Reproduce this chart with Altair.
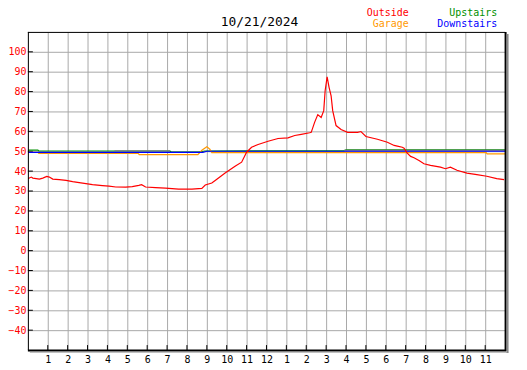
import json
import altair as alt
import pandas as pd

# ---------------- data ----------------
hours = list(range(1, 24))
hour_labels = ["1", "2", "3", "4", "5", "6", "7", "8", "9", "10", "11", "12",
               "1", "2", "3", "4", "5", "6", "7", "8", "9", "10", "11"]
y_ticks = [-40, -30, -20, -10, 0, 10, 20, 30, 40, 50, 60, 70, 80, 90, 100]

outside_h = [0.0, 0.17, 0.25, 0.58, 0.75, 0.95, 1.08, 1.25, 1.58, 1.92, 2.25, 2.58, 2.92,
             3.25, 3.75, 4.08, 4.42, 4.92, 5.25, 5.58, 5.72, 5.92, 6.42, 6.92, 7.58, 8.25,
             8.75, 8.92, 9.25, 9.42, 9.92, 10.42, 10.75, 11.0, 11.25, 11.58, 12.08, 12.58,
             13.08, 13.42, 13.75, 14.17, 14.25, 14.42, 14.58, 14.75, 14.88, 14.95, 15.05,
             15.15, 15.25, 15.33, 15.5, 15.75, 16.08, 16.58, 16.75, 17.0, 17.58, 18.08,
             18.42, 18.58, 18.83, 18.92, 19.08, 19.25, 19.42, 19.67, 19.92, 20.25, 20.75,
             21.0, 21.25, 21.58, 22.08, 22.58, 23.08, 23.58, 23.95]
outside_v = [36.2, 37.0, 36.5, 36.0, 36.5, 37.3, 37.0, 36.0, 35.7, 35.3, 34.7, 34.2, 33.7,
             33.2, 32.7, 32.4, 32.0, 31.9, 32.2, 32.8, 33.2, 32.0, 31.7, 31.4, 30.9, 30.9,
             31.3, 33.0, 34.0, 35.3, 39.0, 42.4, 44.5, 49.5, 52.0, 53.4, 55.0, 56.4,
             56.7, 57.9, 58.5, 59.3, 59.5, 64.5, 68.4, 67.0, 70.4, 80.4, 87.4,
             82.0, 77.9, 70.4, 62.9, 60.9, 59.5, 59.5, 59.9, 57.4, 56.0, 54.5,
             52.9, 52.6, 52.0, 51.5, 49.0, 47.4, 46.7, 45.3, 43.7, 42.9, 42.0,
             41.2, 42.0, 40.4, 39.0, 38.2, 37.4, 36.2, 35.7]

upstairs_h = [0.0, 0.5, 0.55, 7.15, 7.2, 8.6, 8.9, 12.4, 15.9, 16.0, 24.0]
upstairs_v = [50.6, 50.6, 50.1, 50.1, 49.6, 49.6, 50.1, 50.2, 50.2, 50.7, 50.7]

garage_h = [0.0, 0.5, 0.55, 5.55, 5.6, 8.55, 8.75, 9.0, 9.15, 9.25, 23.05, 23.1, 24.0]
garage_v = [49.4, 49.4, 48.9, 48.9, 48.3, 48.3, 50.5, 52.3, 51.0, 49.3, 49.3, 48.7, 48.7]

downstairs_h = [0.0, 8.6, 8.8, 9.0, 24.0]
downstairs_v = [49.4, 49.4, 49.4, 50.0, 50.0]

other_h = [4.35, 7.15, 15.9, 24.0]
other_v = [50.2, 50.2, 50.4, 50.4]
other_seg = [0, 0, 1, 1]

# ---------------- build ----------------
W, H = 480, 320
FONT = "DejaVu Sans Mono"

x_scale = alt.Scale(domain=[0, 24], nice=False, zero=False)
y_scale = alt.Scale(domain=[-50, 110], nice=False, zero=False)

label_expr = json.dumps(hour_labels) + "[datum.value - 1]"

x_axis = alt.Axis(values=hours, labelExpr=label_expr, grid=True, gridColor="#a8a8a8",
                  gridWidth=1, ticks=False, domain=False, labelFont=FONT, labelFontSize=10,
                  labelColor="black", labelPadding=5, labelBaseline="top", title=None,
                  labelAngle=0)
y_axis = alt.Axis(values=y_ticks, grid=True, gridColor="#a8a8a8", gridWidth=1, ticks=False,
                  domain=False, labelFont=FONT, labelFontSize=10, labelColor="#ff0000",
                  labelPadding=2, title=None)

X = lambda f: alt.X(f, scale=x_scale, axis=x_axis)
Y = lambda f: alt.Y(f, scale=y_scale, axis=y_axis)


def series(h, v, color, seg=None):
    df = pd.DataFrame({"h": h, "v": v, "seg": seg if seg is not None else [0] * len(h)})
    return alt.Chart(df).mark_line(color=color, strokeWidth=1.2, clip=True).encode(
        x=X("h:Q"), y=Y("v:Q"), detail="seg:N",
    )


grid_df = pd.DataFrame({"h": hours})
ytick_df = pd.DataFrame({"v": y_ticks})

# inward tick marks (these also carry the axes / grid)
xticks = alt.Chart(grid_df).mark_rule(color="black", strokeWidth=1).encode(
    x=X("h:Q"), y=alt.value(H - 5), y2=alt.value(H),
)
yticks = alt.Chart(ytick_df).mark_rule(color="black", strokeWidth=1).encode(
    y=Y("v:Q"), x=alt.value(0), x2=alt.value(5),
)

# heavier right / bottom border with shadow
border = alt.Chart(pd.DataFrame({"k": [0]}))
right_black = border.mark_rule(color="black", strokeWidth=2).encode(
    x=alt.value(W + 0.5), y=alt.value(0), y2=alt.value(H + 1))
right_gray = border.mark_rule(color="#888888", strokeWidth=2).encode(
    x=alt.value(W + 2.5), y=alt.value(2), y2=alt.value(H + 3))
bottom_black = border.mark_rule(color="black", strokeWidth=2).encode(
    y=alt.value(H + 0.5), x=alt.value(0), x2=alt.value(W + 1))
bottom_gray = border.mark_rule(color="#888888", strokeWidth=1).encode(
    y=alt.value(H + 2), x=alt.value(2), x2=alt.value(W + 3))
left_black = border.mark_rule(color="black", strokeWidth=1).encode(
    x=alt.value(0.5), y=alt.value(0), y2=alt.value(H))
top_black = border.mark_rule(color="black", strokeWidth=1).encode(
    y=alt.value(0.5), x=alt.value(0), x2=alt.value(W))

# title / legend text
texts = pd.DataFrame({
    "t": ["10/21/2024", "Outside", "Garage", "Upstairs", "Downstairs"],
})


def label(i, size, align, color, x, y):
    return alt.Chart(texts.iloc[[i]]).mark_text(
        font=FONT, fontSize=size, align=align, baseline="alphabetic", color=color
    ).encode(text="t:N", x=alt.value(x), y=alt.value(y))


title = label(0, 13, "center", "black", 233, -6)
leg_outside = label(1, 10, "right", "#ff0000", 383, -16)
leg_garage = label(2, 10, "right", "#ff9900", 383, -5)
leg_up = label(3, 10, "right", "#009000", 472, -16)
leg_down = label(4, 10, "right", "#0000ff", 472, -5)

chart = alt.layer(
    xticks, yticks,
    series(upstairs_h, upstairs_v, "#009000"),
    series(other_h, other_v, "#808080", other_seg),
    series(garage_h, garage_v, "#ff9900"),
    series(downstairs_h, downstairs_v, "#0000ff"),
    series(outside_h, outside_v, "#ff0000"),
    left_black, top_black,
    right_black, right_gray, bottom_black, bottom_gray,
    title, leg_outside, leg_garage, leg_up, leg_down,
).properties(
    width=W, height=H,
    autosize=alt.AutoSizeParams(type="none"),
    padding={"left": 20, "top": 23, "right": 14, "bottom": 19},
).configure_view(
    stroke=None,
).configure(background="white")

chart.save("out.html", embed_options={"renderer": "svg", "actions": False})
